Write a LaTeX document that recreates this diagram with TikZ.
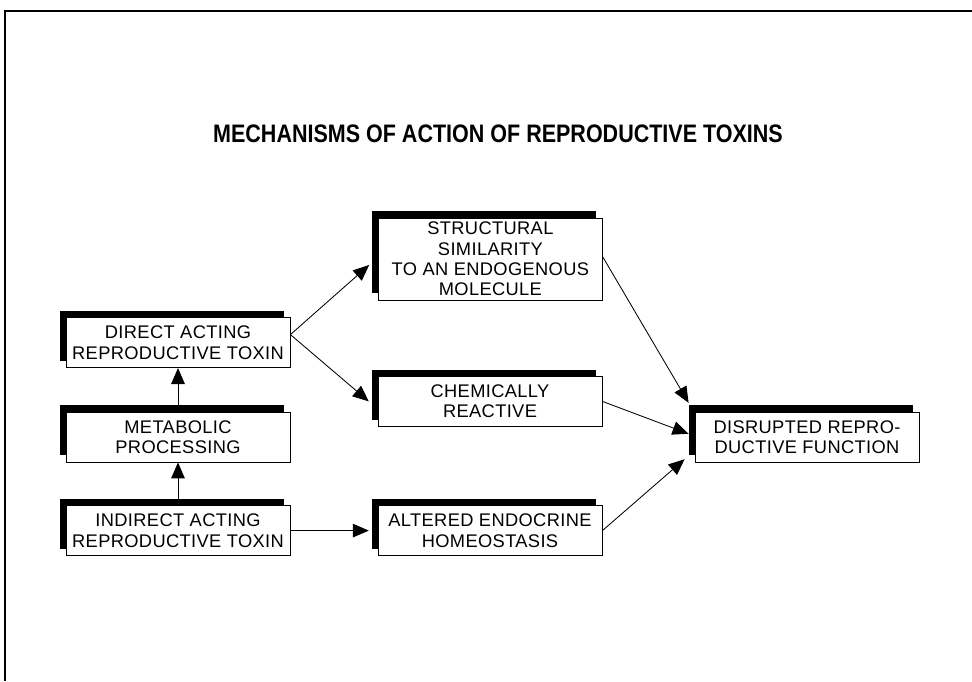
\documentclass[tikz,border=0pt]{standalone}
\usepackage{fontspec}
\setmainfont{Liberation Sans}[LetterSpace=2]
\newfontfamily\titlefont{Liberation Sans}[FakeStretch=0.85]
\usetikzlibrary{arrows.meta, shadows}

\tikzset{
  toxbox/.style={draw, line width=0.6pt, fill=white, align=center,
    minimum width=5.6cm, minimum height=1.25cm, inner sep=2pt,
    font=\fontsize{13}{14.5}\selectfont,
    general shadow={fill=black, shadow xshift=-0.15cm, shadow yshift=0.17cm}},
  toxarrow/.style={line width=0.6pt, -{Triangle[length=0.4cm, width=0.34cm]}}
}

\begin{document}
\begin{tikzpicture}
\useasboundingbox (0,0) rectangle (24.3,17.025);
\draw[line width=1.4pt] (0.125,0) -- (0.125,16.75) -- (24.3,16.75);

\node (title) at (12.45,13.675) {\titlefont\bfseries\fontsize{18}{20}\selectfont MECHANISMS OF ACTION OF REPRODUCTIVE TOXINS};

\node[toxbox] (direct) at (4.45,8.46) {DIRECT ACTING\\REPRODUCTIVE TOXIN};
\node[toxbox] (metab) at (4.45,6.1) {METABOLIC\\PROCESSING};
\node[toxbox] (indirect) at (4.45,3.76) {INDIRECT ACTING\\REPRODUCTIVE TOXIN};

\node[toxbox, minimum height=2.05cm] (struct) at (12.26,10.55) {STRUCTURAL\\SIMILARITY\\TO AN ENDOGENOUS\\MOLECULE};
\node[toxbox] (chem) at (12.25,6.99) {CHEMICALLY\\REACTIVE};
\node[toxbox] (altered) at (12.25,3.76) {ALTERED ENDOCRINE\\HOMEOSTASIS};

\node[toxbox] (disrupted) at (20.175,6.1) {DISRUPTED REPRO-\\DUCTIVE FUNCTION};

\draw[toxarrow] (metab.north) -- (direct.south);
\draw[toxarrow] (indirect.north) -- (metab.south);
\draw[toxarrow] ([yshift=0.2cm]direct.east) -- ([xshift=-0.22cm,yshift=-0.15cm]struct.west);
\draw[toxarrow] ([yshift=0.2cm]direct.east) -- ([xshift=-0.22cm]chem.west);
\draw[toxarrow] (indirect.east) -- ([xshift=-0.22cm]altered.west);

\draw[toxarrow] ([yshift=0.05cm]struct.east) -- ([xshift=-0.15cm,yshift=0.22cm]disrupted.north west);
\draw[toxarrow] (chem.east) -- ([xshift=-0.15cm,yshift=0.08cm]disrupted.west);
\draw[toxarrow] (altered.east) -- ([xshift=-0.25cm,yshift=0.08cm]disrupted.south west);
\end{tikzpicture}
\end{document}
